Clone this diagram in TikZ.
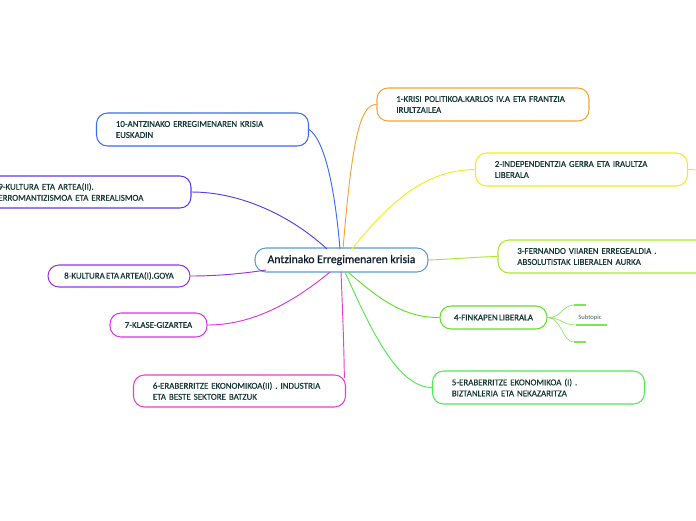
\documentclass[tikz,border=0pt]{standalone}
\usepackage{fontspec}
\setmainfont{Carlito}
\newfontfamily\mapfont{Carlito}[FakeBold=0.6, WordSpace=0.6]
\newfontfamily\rootfont{Carlito}[FakeBold=1.0]
\usetikzlibrary{positioning}
\definecolor{txt}{HTML}{173A36}
\definecolor{rootc}{HTML}{5B9BD5}
\definecolor{c1}{HTML}{F2A533}
\definecolor{c2}{HTML}{F7EA1A}
\definecolor{c3}{HTML}{A9E82E}
\definecolor{c4}{HTML}{62DE2C}
\definecolor{c5}{HTML}{52E852}
\definecolor{c6}{HTML}{E83CD2}
\definecolor{c7}{HTML}{D636E6}
\definecolor{c8}{HTML}{9A33E8}
\definecolor{c9}{HTML}{5A3CE8}
\definecolor{c10}{HTML}{3A6CF0}
\tikzset{
  x=0.03cm, y=-0.03cm,
  topic/.style={draw, line width=0.9pt, rounded corners=0.33cm, fill=white,
    text=txt, font=\mapfont\fontsize{7.6}{9.4}\selectfont, inner ysep=0pt,
    minimum height=0.99cm},
  twoline/.style={topic, text width=5.2cm, align=left, inner xsep=0.58cm},
  oneline/.style={topic, minimum height=0.7cm, inner xsep=0pt},
  branch/.style={line width=0.8pt},
}

\begin{document}
\begin{tikzpicture}[root/.style={draw=rootc, line width=0.9pt,
      rounded corners=0.33cm, fill=white, text=rootc!20!black,
      font=\rootfont\fontsize{10}{12}\selectfont, minimum width=5.19cm,
      minimum height=0.72cm}]
      \useasboundingbox (0,0) rectangle (696,520);

      % --- Nodes ---
      \node[root] (root) at (341.5,260) {Antzinako Erregimenaren krisia};
      \node[twoline, draw=c1] (t1) at (483,104.5)
        {1-KRISI POLITIKOA.KARLOS IV.A ETA FRANTZIA\\IRULTZAILEA};
      \node[twoline, draw=c2] (t2) at (581.5,169.5)
        {2-INDEPENDENTZIA GERRA ETA IRAULTZA\\LIBERALA};
      \node[twoline, draw=c3] (t3) at (604,256.5)
        {3-FERNANDO VIIAREN ERREGEALDIA .\\ABSOLUTISTAK LIBERALEN AURKA};
      \node[oneline, draw=c4, minimum width=3.21cm, minimum height=0.69cm]
        (t4) at (493.5,317.5) {4-FINKAPEN LIBERALA};
      \node[twoline, draw=c5] (t5) at (538.5,387.5)
        {5-ERABERRITZE EKONOMIKOA (I) .\\BIZTANLERIA ETA NEKAZARITZA};
      \node[twoline, draw=c6, minimum height=0.96cm] (t6) at (239.5,391)
        {6-ERABERRITZE EKONOMIKOA(II) . INDUSTRIA\\ETA BESTE SEKTORE BATZUK};
      \node[oneline, draw=c7, minimum width=2.91cm, minimum height=0.72cm]
        (t7) at (158.5,325) {7-KLASE-GIZARTEA};
      \node[oneline, draw=c8, minimum width=4.26cm, minimum height=0.66cm]
        (t8) at (119,276) {8-KULTURA ETA ARTEA(I).GOYA};
      \node[twoline, draw=c9, minimum height=0.96cm] (t9) at (85,192)
        {9-KULTURA ETA ARTEA(II).\\ERROMANTIZISMOA ETA ERREALISMOA};
      \node[twoline, draw=c10] (t10) at (202.5,129.5)
        {10-ANTZINAKO ERREGIMENAREN KRISIA\\EUSKADIN};

      % --- Subtopics of 4 ---
      \node[text=txt!80, font=\fontsize{5.6}{7}\selectfont, inner sep=1pt]
        (s2) at (590,318) {Subtopic};
      \coordinate (s1a) at (574,305); \coordinate (s1b) at (586,305);
      \coordinate (s2a) at (576,325); \coordinate (s2b) at (607,325);
      \coordinate (s3a) at (574,342); \coordinate (s3b) at (586,342);
      \coordinate (out2) at (700,170);

      % --- Branches ---
      \draw[branch, c1] (343,249) .. controls (352,140) and (360,104) .. (t1.west);
      \draw[branch, c2] (352,249) .. controls (395,195) and (430,170) .. (t2.west);
      \draw[branch, c2] (t2.east) -- (out2);
      \draw[branch, c3] (root.east) .. controls (455,259) and (475,257) .. (t3.west);
      \draw[branch, c4] (348,272) .. controls (380,300) and (405,318) .. (t4.west);
      \draw[branch, c5] (345,272) .. controls (375,340) and (400,387) .. (t5.west);
      \draw[branch, c6] (341,272) .. controls (343,320) and (344,350) .. ([xshift=-0.05cm, yshift=-0.1cm]t6.north east);
      \draw[branch, c7] (330,272) .. controls (290,305) and (250,325) .. (t7.east);
      \draw[branch, c8] (266,270) .. controls (240,274) and (215,276) .. (t8.east);
      \draw[branch, c9] (327,249) .. controls (290,215) and (240,192) .. (t9.east);
      \draw[branch, c10] (340,249) .. controls (335,190) and (325,140) .. (t10.east);

      % --- Subtopic lines ---
      \draw[line width=0.6pt, c4!70] (t4.east) .. controls (562,318) and (562,305) .. (s1a)
        (t4.east) .. controls (562,318) and (562,325) .. (s2a)
        (t4.east) .. controls (562,318) and (562,342) .. (s3a);
      \draw[line width=1.1pt, c4!80]
        (s1a) -- (s1b)
        (s2a) -- (s2b)
        (s3a) -- (s3b);

    \end{tikzpicture}
\end{document}
